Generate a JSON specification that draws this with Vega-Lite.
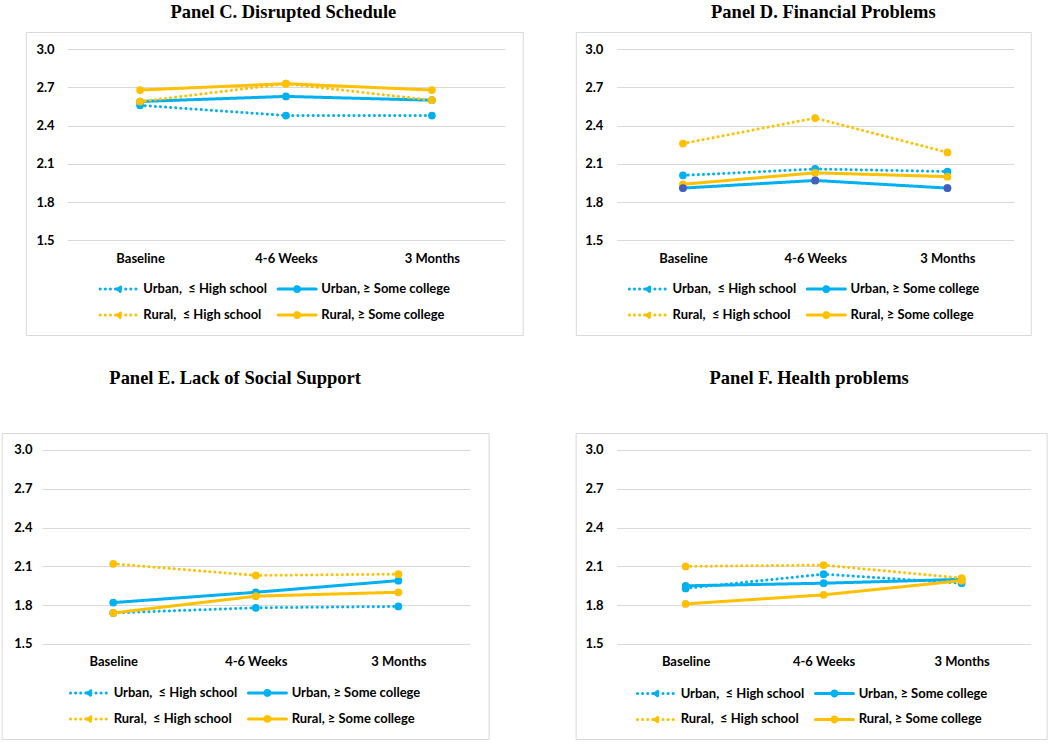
{
  "$schema": "https://vega.github.io/schema/vega-lite/v6.json",
  "background": "white",
  "padding": {"left": 0.6, "top": 2, "right": 0, "bottom": 0},
  "data": {"values": [
    {"panel": "C", "time": "Baseline", "series": "Urban,\u00a0 ≤ High school", "value": 2.56},
    {"panel": "C", "time": "4-6 Weeks", "series": "Urban,\u00a0 ≤ High school", "value": 2.48},
    {"panel": "C", "time": "3 Months", "series": "Urban,\u00a0 ≤ High school", "value": 2.48},
    {"panel": "C", "time": "Baseline", "series": "Urban, ≥ Some college", "value": 2.59},
    {"panel": "C", "time": "4-6 Weeks", "series": "Urban, ≥ Some college", "value": 2.63},
    {"panel": "C", "time": "3 Months", "series": "Urban, ≥ Some college", "value": 2.6},
    {"panel": "C", "time": "Baseline", "series": "Rural,\u00a0 ≤ High school", "value": 2.59},
    {"panel": "C", "time": "4-6 Weeks", "series": "Rural,\u00a0 ≤ High school", "value": 2.73},
    {"panel": "C", "time": "3 Months", "series": "Rural,\u00a0 ≤ High school", "value": 2.6},
    {"panel": "C", "time": "Baseline", "series": "Rural, ≥ Some college", "value": 2.68},
    {"panel": "C", "time": "4-6 Weeks", "series": "Rural, ≥ Some college", "value": 2.73},
    {"panel": "C", "time": "3 Months", "series": "Rural, ≥ Some college", "value": 2.68},
    {"panel": "D", "time": "Baseline", "series": "Urban,\u00a0 ≤ High school", "value": 2.01},
    {"panel": "D", "time": "4-6 Weeks", "series": "Urban,\u00a0 ≤ High school", "value": 2.06},
    {"panel": "D", "time": "3 Months", "series": "Urban,\u00a0 ≤ High school", "value": 2.04},
    {"panel": "D", "time": "Baseline", "series": "Urban, ≥ Some college", "value": 1.91},
    {"panel": "D", "time": "4-6 Weeks", "series": "Urban, ≥ Some college", "value": 1.97},
    {"panel": "D", "time": "3 Months", "series": "Urban, ≥ Some college", "value": 1.91},
    {"panel": "D", "time": "Baseline", "series": "Rural,\u00a0 ≤ High school", "value": 2.26},
    {"panel": "D", "time": "4-6 Weeks", "series": "Rural,\u00a0 ≤ High school", "value": 2.46},
    {"panel": "D", "time": "3 Months", "series": "Rural,\u00a0 ≤ High school", "value": 2.19},
    {"panel": "D", "time": "Baseline", "series": "Rural, ≥ Some college", "value": 1.94},
    {"panel": "D", "time": "4-6 Weeks", "series": "Rural, ≥ Some college", "value": 2.03},
    {"panel": "D", "time": "3 Months", "series": "Rural, ≥ Some college", "value": 2.0},
    {"panel": "E", "time": "Baseline", "series": "Urban,\u00a0 ≤ High school", "value": 1.74},
    {"panel": "E", "time": "4-6 Weeks", "series": "Urban,\u00a0 ≤ High school", "value": 1.78},
    {"panel": "E", "time": "3 Months", "series": "Urban,\u00a0 ≤ High school", "value": 1.79},
    {"panel": "E", "time": "Baseline", "series": "Urban, ≥ Some college", "value": 1.82},
    {"panel": "E", "time": "4-6 Weeks", "series": "Urban, ≥ Some college", "value": 1.9},
    {"panel": "E", "time": "3 Months", "series": "Urban, ≥ Some college", "value": 1.99},
    {"panel": "E", "time": "Baseline", "series": "Rural,\u00a0 ≤ High school", "value": 2.12},
    {"panel": "E", "time": "4-6 Weeks", "series": "Rural,\u00a0 ≤ High school", "value": 2.03},
    {"panel": "E", "time": "3 Months", "series": "Rural,\u00a0 ≤ High school", "value": 2.04},
    {"panel": "E", "time": "Baseline", "series": "Rural, ≥ Some college", "value": 1.74},
    {"panel": "E", "time": "4-6 Weeks", "series": "Rural, ≥ Some college", "value": 1.87},
    {"panel": "E", "time": "3 Months", "series": "Rural, ≥ Some college", "value": 1.9},
    {"panel": "F", "time": "Baseline", "series": "Urban,\u00a0 ≤ High school", "value": 1.93},
    {"panel": "F", "time": "4-6 Weeks", "series": "Urban,\u00a0 ≤ High school", "value": 2.04},
    {"panel": "F", "time": "3 Months", "series": "Urban,\u00a0 ≤ High school", "value": 1.97},
    {"panel": "F", "time": "Baseline", "series": "Urban, ≥ Some college", "value": 1.95},
    {"panel": "F", "time": "4-6 Weeks", "series": "Urban, ≥ Some college", "value": 1.97},
    {"panel": "F", "time": "3 Months", "series": "Urban, ≥ Some college", "value": 2.0},
    {"panel": "F", "time": "Baseline", "series": "Rural,\u00a0 ≤ High school", "value": 2.1},
    {"panel": "F", "time": "4-6 Weeks", "series": "Rural,\u00a0 ≤ High school", "value": 2.11},
    {"panel": "F", "time": "3 Months", "series": "Rural,\u00a0 ≤ High school", "value": 2.01},
    {"panel": "F", "time": "Baseline", "series": "Rural, ≥ Some college", "value": 1.81},
    {"panel": "F", "time": "4-6 Weeks", "series": "Rural, ≥ Some college", "value": 1.88},
    {"panel": "F", "time": "3 Months", "series": "Rural, ≥ Some college", "value": 1.99}
  ]},
  "spacing": 32,
  "center": true,
  "resolve": {"scale": {"color": "independent", "strokeDash": "independent"}, "legend": {"color": "independent", "strokeDash": "independent"}},
  "vconcat": [
    {
      "spacing": 51,
      "resolve": {"scale": {"color": "independent", "strokeDash": "independent"}, "legend": {"color": "independent", "strokeDash": "independent"}},
      "hconcat": [
        {
          "width": 497, "height": 303,
          "title": {"text": "Panel C. Disrupted Schedule", "dx": 9, "offset": 10.7},
          "transform": [{"filter": "datum.panel === 'C'"}],
          "mark": {"type": "line", "strokeWidth": 3, "strokeCap": "round", "point": {"filled": true, "size": 60}},
          "encoding": {
            "x": {"field": "time", "type": "ordinal", "sort": ["Baseline", "4-6 Weeks", "3 Months"], "scale": {"type": "point", "range": [41.3, 479], "padding": 0.5}, "axis": {"offset": -94.7, "labelPadding": 12, "title": null}},
            "y": {"field": "value", "type": "quantitative", "scale": {"domain": [1.5, 3.0], "range": [208.3, 17.3], "nice": false, "zero": false}, "axis": {"offset": -41.3, "labelPadding": 13, "minExtent": 0, "title": null, "values": [1.5, 1.8, 2.1, 2.4, 2.7, 3.0], "format": ".1f"}},
            "color": {"field": "series", "type": "nominal", "scale": {"domain": ["Urban,\u00a0 ≤ High school", "Urban, ≥ Some college", "Rural,\u00a0 ≤ High school", "Rural, ≥ Some college"], "range": ["#00B0F0", "#00B0F0", "#FFC000", "#FFC000"]},
              "legend": {"orient": "none", "legendX": 81.8, "legendY": 245.6, "direction": "horizontal", "columns": 2, "title": null, "padding": 0, "symbolType": "M-1.9,0L1.9,0M-0.114,0A0.114,0.114,0,1,1,0.114,0A0.114,0.114,0,1,1,-0.114,0M-0.247,0A0.247,0.247,0,1,1,0.247,0A0.247,0.247,0,1,1,-0.247,0", "symbolSize": 400, "symbolStrokeWidth": 3, "labelOffset": 12.7, "columnPadding": 4, "rowPadding": 6, "labelLimit": 400,
                "encode": {"symbols": {"update": {"fill": [{"test": "indexof(datum.value, 'Urban') === 0", "value": "#00B0F0"}, {"value": "#FFC000"}], "strokeCap": {"value": "round"}}}}}},
            "strokeDash": {"field": "series", "type": "nominal", "scale": {"domain": ["Urban,\u00a0 ≤ High school", "Urban, ≥ Some college", "Rural,\u00a0 ≤ High school", "Rural, ≥ Some college"], "range": [[0.1, 5], [1, 0], [0.1, 5], [1, 0]]},
              "legend": {"orient": "none", "legendX": 81.8, "legendY": 245.6, "direction": "horizontal", "columns": 2, "title": null, "padding": 0, "symbolType": "M-1.9,0L1.9,0M-0.114,0A0.114,0.114,0,1,1,0.114,0A0.114,0.114,0,1,1,-0.114,0M-0.247,0A0.247,0.247,0,1,1,0.247,0A0.247,0.247,0,1,1,-0.247,0", "symbolSize": 400, "symbolStrokeWidth": 3, "labelOffset": 12.7, "columnPadding": 4, "rowPadding": 6, "labelLimit": 400}}
          }
        },
        {
          "width": 455, "height": 303,
          "title": {"text": "Panel D. Financial Problems", "dx": 20, "offset": 10.7},
          "transform": [{"filter": "datum.panel === 'D'"}],
          "encoding": {
            "x": {"field": "time", "type": "ordinal", "sort": ["Baseline", "4-6 Weeks", "3 Months"], "scale": {"type": "point", "range": [41, 437.7], "padding": 0.5}, "axis": {"offset": -94.7, "labelPadding": 12, "title": null}},
            "y": {"field": "value", "type": "quantitative", "scale": {"domain": [1.5, 3.0], "range": [208.3, 17.3], "nice": false, "zero": false}, "axis": {"offset": -41, "labelPadding": 14, "minExtent": 0, "title": null, "values": [1.5, 1.8, 2.1, 2.4, 2.7, 3.0], "format": ".1f"}}
          },
          "layer": [
            {
              "mark": {"type": "line", "strokeWidth": 3, "strokeCap": "round", "point": {"filled": true, "size": 60}},
              "encoding": {
                "color": {"field": "series", "type": "nominal", "scale": {"domain": ["Urban,\u00a0 ≤ High school", "Urban, ≥ Some college", "Rural,\u00a0 ≤ High school", "Rural, ≥ Some college"], "range": ["#00B0F0", "#00B0F0", "#FFC000", "#FFC000"]},
                  "legend": {"orient": "none", "legendX": 61, "legendY": 245.6, "direction": "horizontal", "columns": 2, "title": null, "padding": 0, "symbolType": "M-1.9,0L1.9,0M-0.114,0A0.114,0.114,0,1,1,0.114,0A0.114,0.114,0,1,1,-0.114,0M-0.247,0A0.247,0.247,0,1,1,0.247,0A0.247,0.247,0,1,1,-0.247,0", "symbolSize": 400, "symbolStrokeWidth": 3, "labelOffset": 12.7, "columnPadding": 4, "rowPadding": 6, "labelLimit": 400,
                    "encode": {"symbols": {"update": {"fill": [{"test": "datum.value === 'Urban, ≥ Some college'", "value": "#4A5CB8"}, {"test": "indexof(datum.value, 'Urban') === 0", "value": "#00B0F0"}, {"value": "#FFC000"}], "strokeCap": {"value": "round"}}}}}},
                "strokeDash": {"field": "series", "type": "nominal", "scale": {"domain": ["Urban,\u00a0 ≤ High school", "Urban, ≥ Some college", "Rural,\u00a0 ≤ High school", "Rural, ≥ Some college"], "range": [[0.1, 5], [1, 0], [0.1, 5], [1, 0]]},
                  "legend": {"orient": "none", "legendX": 61, "legendY": 245.6, "direction": "horizontal", "columns": 2, "title": null, "padding": 0, "symbolType": "M-1.9,0L1.9,0M-0.114,0A0.114,0.114,0,1,1,0.114,0A0.114,0.114,0,1,1,-0.114,0M-0.247,0A0.247,0.247,0,1,1,0.247,0A0.247,0.247,0,1,1,-0.247,0", "symbolSize": 400, "symbolStrokeWidth": 3, "labelOffset": 12.7, "columnPadding": 4, "rowPadding": 6, "labelLimit": 400}}
              }
            },
            {
              "transform": [{"filter": "datum.series === 'Urban, ≥ Some college'"}],
              "mark": {"type": "point", "filled": true, "size": 60, "color": "#4A5CB8", "opacity": 1},
              "encoding": {}
            }
          ]
        }
      ]
    },
    {
      "spacing": 85,
      "resolve": {"scale": {"color": "independent", "strokeDash": "independent"}, "legend": {"color": "independent", "strokeDash": "independent"}},
      "hconcat": [
        {
          "width": 487, "height": 306,
          "title": {"text": "Panel E. Lack of Social Support", "dx": -10, "offset": 45.7},
          "transform": [{"filter": "datum.panel === 'E'"}],
          "mark": {"type": "line", "strokeWidth": 3, "strokeCap": "round", "point": {"filled": true, "size": 60}},
          "encoding": {
            "x": {"field": "time", "type": "ordinal", "sort": ["Baseline", "4-6 Weeks", "3 Months"], "scale": {"type": "point", "range": [40.3, 468], "padding": 0.5}, "axis": {"offset": -95, "labelPadding": 12, "title": null}},
            "y": {"field": "value", "type": "quantitative", "scale": {"domain": [1.5, 3.0], "range": [211, 17], "nice": false, "zero": false}, "axis": {"offset": -40.3, "labelPadding": 10, "minExtent": 0, "title": null, "values": [1.5, 1.8, 2.1, 2.4, 2.7, 3.0], "format": ".1f"}},
            "color": {"field": "series", "type": "nominal", "scale": {"domain": ["Urban,\u00a0 ≤ High school", "Urban, ≥ Some college", "Rural,\u00a0 ≤ High school", "Rural, ≥ Some college"], "range": ["#00B0F0", "#00B0F0", "#FFC000", "#FFC000"]},
              "legend": {"orient": "none", "legendX": 76.3, "legendY": 248.4, "direction": "horizontal", "columns": 2, "title": null, "padding": 0, "symbolType": "M-1.9,0L1.9,0M-0.114,0A0.114,0.114,0,1,1,0.114,0A0.114,0.114,0,1,1,-0.114,0M-0.247,0A0.247,0.247,0,1,1,0.247,0A0.247,0.247,0,1,1,-0.247,0", "symbolSize": 400, "symbolStrokeWidth": 3, "labelOffset": 12.7, "columnPadding": 4, "rowPadding": 6, "labelLimit": 400,
                "encode": {"symbols": {"update": {"fill": [{"test": "indexof(datum.value, 'Urban') === 0", "value": "#00B0F0"}, {"value": "#FFC000"}], "strokeCap": {"value": "round"}}}}}},
            "strokeDash": {"field": "series", "type": "nominal", "scale": {"domain": ["Urban,\u00a0 ≤ High school", "Urban, ≥ Some college", "Rural,\u00a0 ≤ High school", "Rural, ≥ Some college"], "range": [[0.1, 5], [1, 0], [0.1, 5], [1, 0]]},
              "legend": {"orient": "none", "legendX": 76.3, "legendY": 248.4, "direction": "horizontal", "columns": 2, "title": null, "padding": 0, "symbolType": "M-1.9,0L1.9,0M-0.114,0A0.114,0.114,0,1,1,0.114,0A0.114,0.114,0,1,1,-0.114,0M-0.247,0A0.247,0.247,0,1,1,0.247,0A0.247,0.247,0,1,1,-0.247,0", "symbolSize": 400, "symbolStrokeWidth": 3, "labelOffset": 12.7, "columnPadding": 4, "rowPadding": 6, "labelLimit": 400}}
          }
        },
        {
          "width": 471, "height": 306,
          "title": {"text": "Panel F. Health problems", "dx": -2, "offset": 45.7},
          "transform": [{"filter": "datum.panel === 'F'"}],
          "mark": {"type": "line", "strokeWidth": 3, "strokeCap": "round", "point": {"filled": true, "size": 60}},
          "encoding": {
            "x": {"field": "time", "type": "ordinal", "sort": ["Baseline", "4-6 Weeks", "3 Months"], "scale": {"type": "point", "range": [41, 455], "padding": 0.5}, "axis": {"offset": -95, "labelPadding": 12, "title": null}},
            "y": {"field": "value", "type": "quantitative", "scale": {"domain": [1.5, 3.0], "range": [211, 17], "nice": false, "zero": false}, "axis": {"offset": -41, "labelPadding": 13.5, "minExtent": 0, "title": "\u00a0", "titleAngle": 0, "titleX": 438.4, "titleY": 0, "titleAlign": "right", "titleBaseline": "top", "titleFontSize": 8, "values": [1.5, 1.8, 2.1, 2.4, 2.7, 3.0], "format": ".1f"}},
            "color": {"field": "series", "type": "nominal", "scale": {"domain": ["Urban,\u00a0 ≤ High school", "Urban, ≥ Some college", "Rural,\u00a0 ≤ High school", "Rural, ≥ Some college"], "range": ["#00B0F0", "#00B0F0", "#FFC000", "#FFC000"]},
              "legend": {"orient": "none", "legendX": 69.3, "legendY": 249, "direction": "horizontal", "columns": 2, "title": null, "padding": 0, "symbolType": "M-1.9,0L1.9,0M-0.114,0A0.114,0.114,0,1,1,0.114,0A0.114,0.114,0,1,1,-0.114,0M-0.247,0A0.247,0.247,0,1,1,0.247,0A0.247,0.247,0,1,1,-0.247,0", "symbolSize": 400, "symbolStrokeWidth": 3, "labelOffset": 12.7, "columnPadding": 4, "rowPadding": 6, "labelLimit": 400,
                "encode": {"symbols": {"update": {"fill": [{"test": "indexof(datum.value, 'Urban') === 0", "value": "#00B0F0"}, {"value": "#FFC000"}], "strokeCap": {"value": "round"}}}}}},
            "strokeDash": {"field": "series", "type": "nominal", "scale": {"domain": ["Urban,\u00a0 ≤ High school", "Urban, ≥ Some college", "Rural,\u00a0 ≤ High school", "Rural, ≥ Some college"], "range": [[0.1, 5], [1, 0], [0.1, 5], [1, 0]]},
              "legend": {"orient": "none", "legendX": 69.3, "legendY": 249, "direction": "horizontal", "columns": 2, "title": null, "padding": 0, "symbolType": "M-1.9,0L1.9,0M-0.114,0A0.114,0.114,0,1,1,0.114,0A0.114,0.114,0,1,1,-0.114,0M-0.247,0A0.247,0.247,0,1,1,0.247,0A0.247,0.247,0,1,1,-0.247,0", "symbolSize": 400, "symbolStrokeWidth": 3, "labelOffset": 12.7, "columnPadding": 4, "rowPadding": 6, "labelLimit": 400}}
          }
        }
      ]
    }
  ],
  "config": {
    "view": {"stroke": "#D9D9D9", "strokeWidth": 1},
    "title": {"font": "Liberation Serif", "fontSize": 18.5, "fontWeight": "bold", "color": "#000000", "anchor": "middle", "baseline": "alphabetic", "frame": "group"},
    "axis": {"labelFont": "Lato", "labelFontSize": 13, "labelFontWeight": "bold", "labelColor": "#000000", "domain": false, "ticks": false, "tickSize": 0},
    "axisX": {"grid": false, "labelAngle": 0},
    "axisY": {"grid": true, "gridColor": "#D9D9D9", "gridWidth": 1.2},
    "legend": {"labelFont": "Lato", "labelFontSize": 13, "labelFontWeight": "bold", "labelColor": "#000000"}
  }
}
